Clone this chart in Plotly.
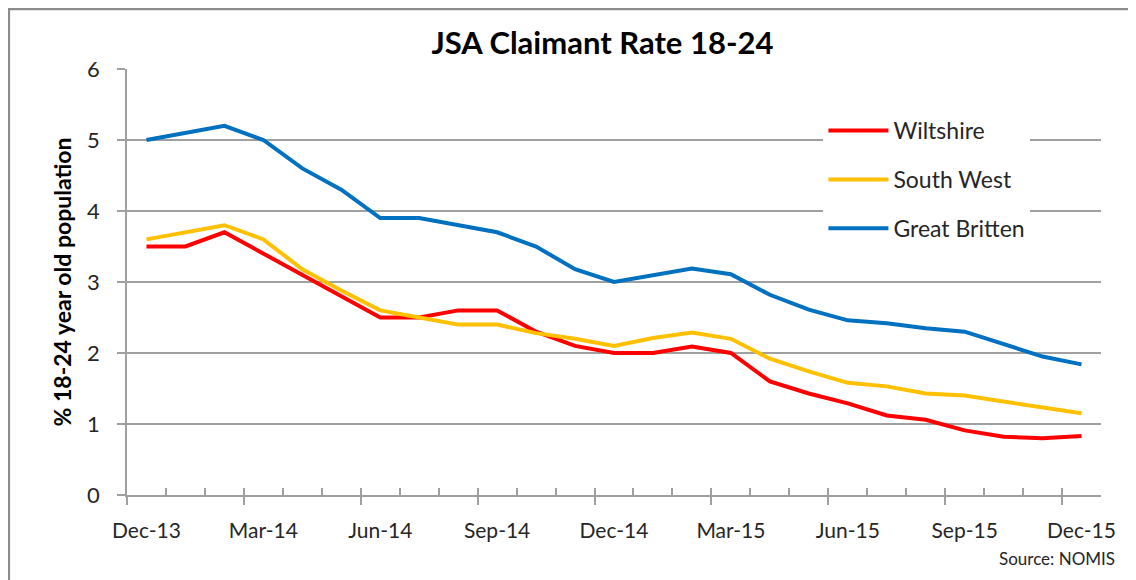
import plotly.graph_objects as go

months = ["Dec-13", "Jan-14", "Feb-14", "Mar-14", "Apr-14", "May-14", "Jun-14", "Jul-14",
          "Aug-14", "Sep-14", "Oct-14", "Nov-14", "Dec-14", "Jan-15", "Feb-15", "Mar-15",
          "Apr-15", "May-15", "Jun-15", "Jul-15", "Aug-15", "Sep-15", "Oct-15", "Nov-15", "Dec-15"]

wiltshire = [3.5, 3.5, 3.7, 3.4, 3.1, 2.8, 2.5, 2.5, 2.6, 2.6, 2.3, 2.1, 2.0,
             2.0, 2.09, 2.0, 1.6, 1.43, 1.29, 1.12, 1.06, 0.91, 0.82, 0.80, 0.83]
south_west = [3.6, 3.7, 3.8, 3.6, 3.18, 2.88, 2.6, 2.5, 2.4, 2.4, 2.28, 2.2, 2.1,
              2.21, 2.29, 2.2, 1.92, 1.74, 1.58, 1.53, 1.43, 1.40, 1.32, 1.23, 1.15]
great_britten = [5.0, 5.1, 5.2, 5.0, 4.6, 4.3, 3.9, 3.9, 3.8, 3.7, 3.5, 3.18, 3.0,
                 3.1, 3.19, 3.11, 2.82, 2.61, 2.46, 2.42, 2.35, 2.30, 2.13, 1.95, 1.84]

series = [("Wiltshire", wiltshire, "#FF0000"),
          ("South West", south_west, "#FFC000"),
          ("Great Britten", great_britten, "#0070C0")]

y_ticks = [0, 1, 2, 3, 4, 5, 6]

FONT = "Lato"
GRID = "#A0A0A0"
TXT = "#262626"

n = len(months)
idx = list(range(n))
label_idx = idx[::3]
boundaries = [i - 0.5 for i in range(n + 1)]
major_bounds = boundaries[::3]

fig = go.Figure()
for i, (name, vals, color) in enumerate(series):
    fig.add_trace(go.Scatter(x=idx, y=vals, mode="lines", name=name,
                             legendgroup=name,
                             line=dict(color=color, width=4)))

# invisible traces carrying tick-mark axes
fig.add_trace(go.Scatter(x=[boundaries[0], boundaries[-1]], y=[None, None], xaxis="x2",
                         showlegend=False, hoverinfo="skip"))
fig.add_trace(go.Scatter(x=[boundaries[0], boundaries[-1]], y=[None, None], xaxis="x3",
                         showlegend=False, hoverinfo="skip"))

xr = [boundaries[0], boundaries[-1]]
fig.update_layout(
    width=1136, height=580,
    margin=dict(l=119, r=43, t=61, b=93),
    paper_bgcolor="white", plot_bgcolor="white",
    font=dict(family=FONT, color=TXT),
    title=dict(text="<b>JSA Claimant Rate 18-24</b>", x=0.5233, xanchor="center",
               y=0.9397, yanchor="middle", font=dict(size=31, color="#000000", family=FONT)),
    xaxis=dict(range=xr, tickmode="array", tickvals=label_idx,
               ticktext=[months[i] for i in label_idx], ticks="",
               showgrid=False, zeroline=False, showline=True, linecolor=GRID, linewidth=1.5,
               tickfont=dict(size=21, color=TXT, family=FONT), ticklabelstandoff=16),
    xaxis2=dict(range=xr, overlaying="x", anchor="y", tickmode="array", tickvals=boundaries,
                ticks="inside", ticklen=7, tickcolor=GRID, tickwidth=1.5,
                showticklabels=False, showgrid=False, zeroline=False, showline=False),
    xaxis3=dict(range=xr, overlaying="x", anchor="y", tickmode="array", tickvals=major_bounds,
                ticks="outside", ticklen=9, tickcolor=GRID, tickwidth=1.5,
                showticklabels=False, showgrid=False, zeroline=False, showline=False),
    yaxis=dict(range=[0, 6], tickmode="array", tickvals=y_ticks, ticks="outside", ticklen=8,
               tickcolor=GRID, tickwidth=1.5, showgrid=True, gridcolor=GRID, gridwidth=1.5,
               zeroline=False, showline=True, linecolor=GRID, linewidth=1.5,
               tickfont=dict(size=22, color=TXT, family=FONT), ticklabelstandoff=13,
               title=dict(text="<b>% 18-24 year old population</b>", standoff=9,
                          font=dict(size=23, color="#000000", family=FONT))),
    legend=dict(x=0.715, y=0.906, xanchor="left", yanchor="top", bgcolor="white",
                font=dict(size=23, color=TXT, family=FONT), tracegroupgap=16,
                itemwidth=60),
    showlegend=True,
    annotations=[dict(text="Source: NOMIS", xref="paper", yref="paper", x=1.0164, y=-0.148,
                      xanchor="right", yanchor="middle", showarrow=False,
                      font=dict(size=17, color=TXT, family=FONT))],
    shapes=[dict(type="rect", xref="paper", yref="paper", x0=-0.1213, y0=-0.4,
                 x1=1.2, y1=1.1408, line=dict(color="#8C8C8C", width=2.5), layer="below")],
)

fig.write_html("out.html")
